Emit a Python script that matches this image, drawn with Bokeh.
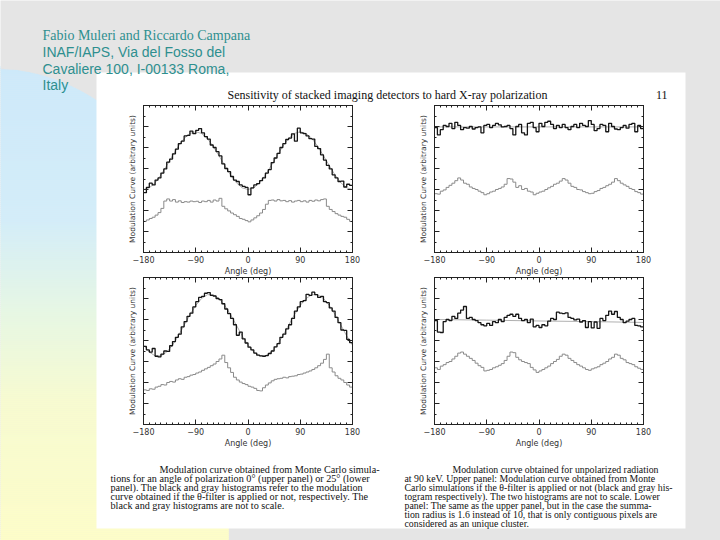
import math
from bokeh.plotting import figure
from bokeh.models import Range1d, LinearAxis, FixedTicker, CustomLabelingPolicy
from bokeh.core.properties import value
from bokeh.embed import file_html
from bokeh.resources import INLINE

# ---------------- data ----------------
BIN_EDGES = list(range(-180, 181, 5))          # 72 bins of 5 deg
FIT_ANGLES = list(range(-180, 181, 10))
X_TICKS = [-180, -90, 0, 90, 180]
X_MINOR = list(range(-180, 181, 10))
X_LABELS = {-180: "\u2212180", -90: "\u221290", 0: "0", 90: "90", 180: "180"}
Y_TICKS = [0, 1, 2, 3, 4, 5, 6, 7]
Y_MINOR = [0.5, 1.5, 2.5, 3.5, 4.5, 5.5, 6.5]

TL_BLACK = [2.85, 3.10, 3.30, 3.22, 3.45, 3.55, 3.78, 3.98, 4.30, 4.45, 4.70, 4.92,
            5.18, 5.30, 5.55, 5.58, 5.78, 5.66, 5.82, 5.90, 5.70, 5.52, 5.40, 5.12,
            5.00, 4.80, 4.60, 4.22, 4.00, 3.85, 3.62, 3.45, 3.38, 3.22, 3.15, 3.10,
            2.75, 3.08, 3.22, 3.28, 3.42, 3.55, 3.78, 3.95, 4.28, 4.50, 4.72, 5.00,
            5.18, 5.38, 5.45, 5.65, 5.30, 5.92, 5.70, 5.66, 5.55, 5.42, 5.40, 5.05,
            4.95, 4.65, 4.40, 4.15, 3.98, 3.70, 3.55, 3.38, 3.40, 3.12, 3.25, 3.20]
TL_GRAY = [1.48, 1.55, 1.62, 1.68, 1.78, 1.90, 2.10, 2.45, 2.55, 2.45, 2.52, 2.40,
           2.46, 2.38, 2.42, 2.40, 2.45, 2.42, 2.44, 2.38, 2.45, 2.42, 2.48, 2.40,
           2.50, 2.45, 2.58, 2.20, 2.08, 1.98, 1.88, 1.80, 1.72, 1.62, 1.58, 1.52,
           1.46, 1.55, 1.65, 1.75, 1.88, 2.05, 2.30, 2.48, 2.50, 2.45, 2.52, 2.46,
           2.48, 2.42, 2.47, 2.40, 2.45, 2.48, 2.42, 2.46, 2.40, 2.48, 2.44, 2.50,
           2.46, 2.52, 2.55, 2.20, 2.05, 1.95, 1.85, 1.78, 1.72, 1.68, 1.58, 1.48]
TL_FIT = [3.00, 3.08, 3.32, 3.69, 4.14, 4.61, 5.06, 5.43, 5.67, 5.75, 5.67, 5.43,
          5.06, 4.61, 4.14, 3.69, 3.32, 3.08, 3.00, 3.08, 3.32, 3.69, 4.14, 4.61,
          5.06, 5.43, 5.67, 5.75, 5.67, 5.43, 5.06, 4.61, 4.14, 3.69, 3.32, 3.08, 3.00]

TR_BLACK = [5.95, 5.60, 5.85, 6.05, 6.00, 6.15, 5.90, 6.20, 6.05, 5.85, 5.95, 5.92,
            6.00, 5.88, 5.95, 5.98, 5.70, 6.05, 6.10, 5.95, 6.05, 6.15, 6.08, 5.98,
            6.00, 6.05, 5.90, 5.60, 6.00, 6.10, 5.70, 5.60, 6.15, 6.20, 5.95, 5.75,
            6.15, 6.00, 6.20, 6.25, 6.10, 5.90, 6.05, 5.95, 6.10, 5.95, 5.85, 6.00,
            6.10, 5.95, 6.15, 6.05, 6.00, 6.28, 6.10, 5.80, 5.90, 6.10, 6.05, 5.75,
            6.15, 6.00, 5.88, 5.85, 5.95, 6.05, 5.92, 6.10, 6.15, 5.75, 6.05, 5.90]
TR_GRAY = [2.80, 2.78, 2.92, 2.98, 3.10, 3.20, 3.30, 3.42, 3.55, 3.45, 3.30, 3.25,
           3.12, 3.05, 3.00, 2.92, 2.85, 2.75, 2.80, 2.88, 2.92, 3.00, 3.05, 3.12,
           3.25, 3.52, 3.50, 3.35, 3.10, 3.18, 3.00, 3.05, 2.92, 2.88, 2.75, 2.82,
           2.88, 2.92, 3.00, 3.08, 3.15, 3.25, 3.30, 3.40, 3.52, 3.45, 3.30, 3.15,
           3.10, 3.00, 2.98, 2.90, 2.85, 2.80, 2.82, 2.90, 2.95, 3.05, 3.10, 3.18,
           3.25, 3.35, 3.52, 3.42, 3.30, 3.22, 3.15, 3.05, 3.00, 2.90, 2.85, 2.78]
TR_FIT_X = [-180, 180]
TR_FIT = [5.98, 5.98]

BL_BLACK = [3.72, 3.55, 3.45, 3.62, 3.25, 3.22, 3.35, 3.50, 3.48, 3.75, 3.95, 4.15,
            4.30, 4.65, 4.90, 5.15, 5.30, 5.60, 5.85, 6.05, 6.10, 6.25, 6.28, 6.15,
            6.12, 6.00, 5.95, 5.75, 5.50, 5.28, 5.05, 4.75, 4.25, 4.40, 4.08, 3.88,
            3.68, 3.55, 3.40, 3.30, 3.27, 3.25, 3.28, 3.38, 3.50, 3.70, 3.85, 4.15,
            4.30, 4.55, 4.75, 5.05, 5.40, 5.60, 5.85, 5.90, 6.20, 6.15, 6.30, 6.18,
            6.05, 6.10, 5.85, 5.80, 5.55, 5.40, 5.10, 4.85, 4.50, 4.48, 4.05, 3.90]
BL_GRAY = [1.65, 1.62, 1.70, 1.68, 1.78, 1.82, 1.90, 1.88, 2.00, 2.05, 2.02, 2.12,
           2.18, 2.15, 2.25, 2.28, 2.35, 2.38, 2.45, 2.50, 2.58, 2.65, 2.72, 2.80,
           2.88, 3.00, 3.12, 3.30, 2.95, 2.70, 2.48, 2.25, 2.12, 2.02, 1.95, 1.90,
           1.82, 1.78, 1.72, 1.62, 1.60, 1.75, 1.88, 1.98, 2.08, 2.15, 2.18, 2.20,
           2.25, 2.22, 2.28, 2.30, 2.32, 2.38, 2.40, 2.45, 2.50, 2.55, 2.62, 2.70,
           2.80, 2.92, 3.10, 3.35, 2.70, 2.50, 2.32, 2.20, 2.12, 2.00, 1.88, 1.78]
BL_FIT = [3.78, 3.45, 3.27, 3.27, 3.45, 3.78, 4.22, 4.73, 5.23, 5.67, 6.00, 6.18,
          6.18, 6.00, 5.67, 5.23, 4.73, 4.22, 3.78, 3.45, 3.27, 3.27, 3.45, 3.78,
          4.22, 4.73, 5.23, 5.67, 6.00, 6.18, 6.18, 6.00, 5.67, 5.23, 4.73, 4.22, 3.78]

BR_BLACK = [4.95, 4.40, 4.38, 4.90, 5.00, 4.95, 5.15, 5.05, 5.30, 5.45, 5.62, 5.05,
            5.10, 5.00, 4.95, 4.85, 4.75, 4.70, 4.82, 4.72, 4.90, 4.85, 5.00, 4.90,
            5.10, 5.20, 5.25, 5.15, 5.25, 5.05, 4.95, 5.00, 4.85, 5.02, 4.65, 4.72,
            4.62, 4.75, 4.70, 4.92, 5.05, 5.00, 5.35, 5.30, 5.28, 5.32, 5.10, 5.05,
            4.98, 5.02, 4.88, 4.95, 4.62, 4.90, 4.60, 4.88, 4.58, 5.05, 4.95, 5.20,
            5.40, 5.25, 5.38, 5.10, 5.00, 4.85, 4.92, 5.00, 5.05, 4.72, 4.70, 4.65]
BR_GRAY = [2.70, 2.62, 2.78, 2.85, 2.95, 3.00, 3.12, 3.25, 3.40, 3.45, 3.35, 3.25,
           3.15, 3.05, 2.92, 2.80, 2.72, 2.55, 2.58, 2.62, 2.70, 2.75, 2.82, 2.90,
           3.05, 3.25, 3.45, 3.42, 3.20, 3.08, 3.00, 2.95, 2.90, 2.72, 2.60, 2.48,
           2.55, 2.62, 2.70, 2.78, 2.90, 3.00, 3.10, 3.25, 3.35, 3.30, 3.15, 3.05,
           2.95, 2.85, 2.78, 2.70, 2.62, 2.58, 2.65, 2.70, 2.75, 2.85, 2.92, 3.00,
           3.12, 3.20, 3.35, 3.30, 3.15, 3.08, 2.95, 2.90, 2.85, 2.75, 2.68, 2.62]
BR_FIT_X = [-180, -90, 0, 90, 180]
BR_FIT = [5.00, 4.97, 4.93, 4.90, 4.86]

AUTHORS = "Fabio Muleri and Riccardo Campana"
AFFIL = ["INAF/IAPS, Via del Fosso del", "Cavaliere 100, I-00133 Roma,", "Italy"]
HEADER = "Sensitivity of stacked imaging detectors to hard X-ray polarization"
PAGE_NO = "11"
CAPTION_L = ["Modulation curve obtained from Monte Carlo simula-",
             "tions for an angle of polarization 0\u00b0 (upper panel) or 25\u00b0 (lower",
             "panel).  The black and gray histograms refer to the modulation",
             "curve obtained if the \u03b8-filter is applied or not, respectively.  The",
             "black and gray histograms are not to scale."]
CAPTION_R = ["Modulation curve obtained for unpolarized radiation",
             "at 90 keV. Upper panel: Modulation curve obtained from Monte",
             "Carlo simulations if the \u03b8-filter is applied or not (black and gray his-",
             "togram respectively). The two histograms are not to scale. Lower",
             "panel: The same as the upper panel, but in the case the summa-",
             "tion radius is 1.6 instead of 10, that is only contiguous pixels are",
             "considered as an unique cluster."]

# ---------------- slide background ----------------
TEAL = "#2e8f8f"
SERIF = value("Liberation Serif")
SANS = value("Liberation Sans")

bg = figure(frame_width=720, frame_height=540, x_range=Range1d(0, 720), y_range=Range1d(540, 0),
            output_backend="svg", toolbar_location=None,
            min_border_left=0, min_border_right=0, min_border_top=0, min_border_bottom=0,
            x_axis_type=None, y_axis_type=None, outline_line_color=None,
            background_fill_color="#e5e5e5", border_fill_color="#e5e5e5")

stops = [(60, (205, 233, 250)), (220, (211, 237, 249)), (310, (230, 247, 228)),
         (400, (247, 251, 208)), (540, (253, 253, 200))]


def grad(y):
    for (y0, c0), (y1, c1) in zip(stops[:-1], stops[1:]):
        if y <= y1:
            t = max(0.0, (y - y0) / (y1 - y0))
            return "#%02x%02x%02x" % tuple(int(round(a + (b - a) * t)) for a, b in zip(c0, c1))
    return "#%02x%02x%02x" % stops[-1][1]


def xmax(y):
    if y < 260:
        return -10 + math.sqrt(max(0.0, 192 ** 2 - (y - 260) ** 2))
    return 228


xs, ys, cs = [], [], []
y = 66
while y < 542:
    y1 = y + 2
    xs.append([0, xmax(y), xmax(y1), 0])
    ys.append([y, y, y1, y1])
    cs.append(grad(y + 1))
    y = y1
bg.patches(xs, ys, fill_color=cs, line_color=cs, line_width=0.5)

bg.quad(left=[96], right=[685], top=[72], bottom=[528], fill_color="white", line_color=None)

bg.text(x=[42], y=[35], text=[AUTHORS], text_font=SERIF, text_font_size="14px",
        text_color=TEAL, text_baseline="alphabetic")
bg.text(x=[42] * 3, y=[51.5, 68, 84.5], text=AFFIL, text_font=SANS, text_font_size="14px",
        text_color=TEAL, text_baseline="alphabetic")

bg.text(x=[227], y=[94], text=[HEADER], text_font=SERIF, text_font_size="12px",
        text_color="#111111", text_baseline="alphabetic")
bg.text(x=[667], y=[94], text=[PAGE_NO], text_font=SERIF, text_font_size="12px",
        text_color="#111111", text_baseline="alphabetic", text_align="right")

bg.text(x=[159] + [110] * 4, y=[469, 478, 487, 496, 505], text=CAPTION_L, text_font=SERIF,
        text_font_size="10.2px", text_color="#111111", text_baseline="alphabetic")
bg.text(x=[452] + [404] * 6, y=[469, 478, 487, 496, 505, 514, 523], text=CAPTION_R,
        text_font=SERIF, text_font_size="9.8px", text_color="#111111", text_baseline="alphabetic")


# ---------------- panels ----------------
NO_LABELS = "for (const i of Array.from(indices)) { indices.unset(i) }\nreturn indices"


def style_axis(ax):
    ax.axis_line_color = "#222222"
    ax.major_tick_in = 5
    ax.major_tick_out = 0
    ax.minor_tick_in = 2
    ax.minor_tick_out = 0
    ax.major_tick_line_color = "#222222"
    ax.minor_tick_line_color = "#222222"


def hide_labels(ax):
    ax.major_label_text_font_size = "1px"
    ax.major_label_standoff = 0
    ax.major_label_policy = CustomLabelingPolicy(code=NO_LABELS)


def panel(left, top, black, gray, fit_x, fit_y):
    p = figure(frame_width=209, frame_height=147, x_range=Range1d(-180, 180), y_range=Range1d(0, 7),
               output_backend="svg", toolbar_location=None,
               min_border_left=40, min_border_right=12, min_border_top=12, min_border_bottom=40,
               background_fill_color=None, border_fill_color=None, outline_line_color="#222222",
               styles={"position": "absolute", "left": "%dpx" % left, "top": "%dpx" % top})
    p.grid.visible = False
    xt = FixedTicker(ticks=X_TICKS, minor_ticks=X_MINOR)
    yt = FixedTicker(ticks=Y_TICKS, minor_ticks=Y_MINOR)

    xa = p.xaxis[0]
    xa.ticker = xt
    xa.major_label_overrides = {float(k): v for k, v in X_LABELS.items()}
    xa.major_label_text_font = "DejaVu Sans"
    xa.major_label_text_font_size = "8px"
    xa.major_label_text_color = "#333333"
    xa.major_label_standoff = 3
    xa.axis_label = "Angle (deg)"
    xa.axis_label_text_font = "DejaVu Sans"
    xa.axis_label_text_font_size = "8px"
    xa.axis_label_text_font_style = "normal"
    xa.axis_label_text_color = "#333333"
    xa.axis_label_standoff = 1
    style_axis(xa)

    ya = p.yaxis[0]
    ya.ticker = yt
    hide_labels(ya)
    ya.axis_label = "Modulation Curve (arbitrary units)"
    ya.axis_label_text_font = "DejaVu Sans"
    ya.axis_label_text_font_size = "7.5px"
    ya.axis_label_text_font_style = "normal"
    ya.axis_label_text_color = "#333333"
    ya.axis_label_standoff = 3
    style_axis(ya)

    top_ax = LinearAxis(ticker=xt)
    right_ax = LinearAxis(ticker=yt)
    for ax in (top_ax, right_ax):
        hide_labels(ax)
        style_axis(ax)
    p.add_layout(top_ax, "above")
    p.add_layout(right_ax, "right")

    p.line(fit_x, fit_y, line_color="#b0b0b0", line_width=1)
    p.step(BIN_EDGES, gray + gray[-1:], mode="after", line_color="#8a8a8a", line_width=1)
    p.step(BIN_EDGES, black + black[-1:], mode="after", line_color="#151515", line_width=1.3)
    return p


# frame origins (page px): left panels at x=143, right at x=434; top row y=105, bottom y=277
p_tl = panel(103, 93, TL_BLACK, TL_GRAY, FIT_ANGLES, TL_FIT)
p_tr = panel(394, 93, TR_BLACK, TR_GRAY, TR_FIT_X, TR_FIT)
p_bl = panel(103, 265, BL_BLACK, BL_GRAY, FIT_ANGLES, BL_FIT)
p_br = panel(394, 265, BR_BLACK, BR_GRAY, BR_FIT_X, BR_FIT)

open("out.html", "w").write(file_html([bg, p_tl, p_tr, p_bl, p_br], INLINE))
